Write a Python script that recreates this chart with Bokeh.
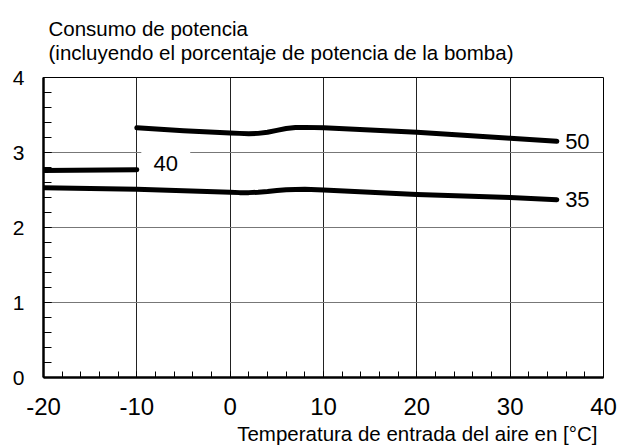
from bokeh.plotting import figure
from bokeh.models import Range1d, SingleIntervalTicker, Label, Title
from bokeh.embed import file_html
from bokeh.resources import INLINE

# Data
x_ticks = [-20, -10, 0, 10, 20, 30, 40]
y_ticks = [0, 1, 2, 3, 4]

s50_x = [-10, -5, 0, 1, 2, 3, 4, 5, 6, 7, 8, 10, 15, 20, 25, 30, 35]
s50_y = [3.33, 3.29, 3.26, 3.255, 3.25, 3.255, 3.27, 3.295, 3.32, 3.333, 3.335, 3.33, 3.30, 3.27, 3.23, 3.19, 3.15]

s35_x = [-20, -10, 0, 1, 2, 3, 4, 5, 6, 7, 8, 10, 15, 20, 25, 30, 35]
s35_y = [2.53, 2.51, 2.47, 2.465, 2.465, 2.47, 2.48, 2.493, 2.503, 2.508, 2.51, 2.50, 2.47, 2.44, 2.42, 2.40, 2.37]

s40_x = [-20, -10]
s40_y = [2.76, 2.77]

series_labels = ["50", "35", "40"]
title_lines = ["Consumo de potencia", "(incluyendo el porcentaje de potencia de la bomba)"]
x_title = "Temperatura de entrada del aire en [°C]"

FONT = "Liberation Sans"

p = figure(width=619, height=448, output_backend="svg", toolbar_location=None,
           x_range=Range1d(-20, 40), y_range=Range1d(0, 4),
           min_border_left=43, min_border_right=16, min_border_top=77, min_border_bottom=71)

p.outline_line_color = "black"
p.outline_line_width = 1
p.background_fill_color = "white"
p.border_fill_color = "white"

# two-line title
p.add_layout(Title(text="\n".join(title_lines), align="left", offset=5, standoff=26,
                   text_font=FONT, text_font_size="20.5px", text_font_style="normal",
                   text_color="black", text_line_height=1.05), "above")

# axes
p.xaxis.ticker = SingleIntervalTicker(interval=10, num_minor_ticks=5)
p.yaxis.ticker = SingleIntervalTicker(interval=1, num_minor_ticks=5)
p.xaxis.major_label_overrides = {t: str(t) for t in x_ticks}
for ax in (p.xaxis[0], p.yaxis[0]):
    ax.axis_line_color = "black"
    ax.axis_line_width = 2.5
    ax.major_tick_out = 0
    ax.minor_tick_out = 0
    ax.major_tick_line_color = "black"
    ax.minor_tick_line_color = "black"
    ax.major_label_text_font = FONT
    ax.major_label_text_color = "black"
p.xaxis.major_label_text_font_size = "24px"
p.yaxis.major_label_text_font_size = "21px"
p.xaxis.major_tick_in = 6
p.xaxis.minor_tick_in = 6
p.yaxis.major_tick_in = 8
p.yaxis.minor_tick_in = 8
p.xaxis.major_label_standoff = 20
p.yaxis.major_label_standoff = 19

# x axis title, right-aligned below the axis
p.add_layout(Title(text=x_title, align="right", offset=6, standoff=4,
                   text_font=FONT, text_font_size="20.5px", text_font_style="normal",
                   text_color="black"), "below")

# grids
p.xgrid.ticker = SingleIntervalTicker(interval=10)
p.ygrid.ticker = SingleIntervalTicker(interval=1)
p.xgrid.grid_line_color = "#222222"
p.xgrid.grid_line_width = 1
p.ygrid.grid_line_color = "#777777"
p.ygrid.grid_line_width = 1

# curves
for xs, ys in ((s50_x, s50_y), (s35_x, s35_y), (s40_x, s40_y)):
    p.line(xs, ys, line_color="black", line_width=5, line_cap="round", line_join="round")

# curve labels
NB = "\u00a0\u00a0"
p.add_layout(Label(x=37.2, y=s50_y[-1], text=series_labels[0], text_align="center",
                   text_baseline="middle", text_font=FONT, text_font_size="22px", text_color="black"))
p.add_layout(Label(x=37.2, y=s35_y[-1], text=series_labels[1], text_align="center",
                   text_baseline="middle", text_font=FONT, text_font_size="22px", text_color="black"))
p.add_layout(Label(x=-6.9, y=2.85, text=NB + series_labels[2] + NB, text_align="center",
                   text_baseline="middle", text_font=FONT, text_font_size="22px", text_color="black",
                   background_fill_color="white"))

open("out.html", "w").write(file_html(p, INLINE))
